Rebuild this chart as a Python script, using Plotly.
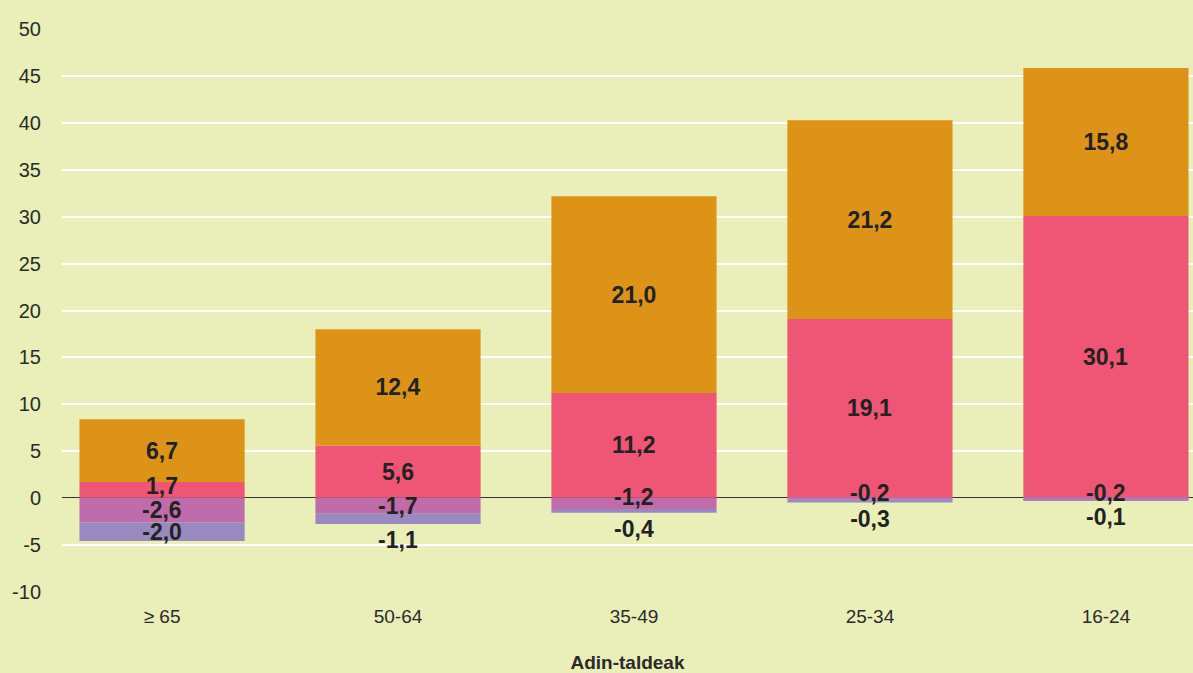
import plotly.graph_objects as go

groups = ['≥ 65', '50-64', '35-49', '25-34', '16-24']

pink_vals = [1.7, 5.6, 11.2, 19.1, 30.1]
orange_vals = [6.7, 12.4, 21.0, 21.2, 15.8]
purple_vals = [-2.6, -1.7, -1.2, -0.2, -0.2]
lavender_vals = [-2.0, -1.1, -0.4, -0.3, -0.1]

y_ticks = [-10, -5, 0, 5, 10, 15, 20, 25, 30, 35, 40, 45, 50]

bg = '#EAEFB9'
label_font = dict(family='Liberation Sans', size=23, color='#222222', weight='bold')


def fmt(v):
    return f'{v:.1f}'.replace('.', ',')


def add_series(fig, vals, color, positions, show_text=True):
    fig.add_trace(go.Bar(
        x=groups, y=vals, marker=dict(color=color, line=dict(width=0)),
        text=[fmt(v) for v in vals] if show_text else None, textposition=positions,
        insidetextanchor='middle', textangle=0,
        textfont=label_font, insidetextfont=label_font, outsidetextfont=label_font,
        cliponaxis=False, showlegend=False,
        hovertemplate='%{x}<br>%{y}<extra></extra>'))


fig = go.Figure()
add_series(fig, pink_vals, '#EF5574', 'none', show_text=False)
add_series(fig, orange_vals, '#DD9318', 'inside')
add_series(fig, purple_vals, '#C06BAA', 'none', show_text=False)
add_series(fig, lavender_vals, '#9A88C1', ['inside', 'outside', 'outside', 'outside', 'outside'])

# first segments on each side of zero: centred, nudged away from zero when thin
for g, v in zip(groups, pink_vals):
    fig.add_annotation(x=g, y=v / 2, text=fmt(v), showarrow=False,
                       font=label_font, yshift=4 if v < 3 else 0)
for g, v in zip(groups, purple_vals):
    fig.add_annotation(x=g, y=v / 2, text=fmt(v), showarrow=False,
                       font=label_font, yshift=6 if abs(v) < 1.5 else 0)

fig.update_layout(
    barmode='relative',
    bargap=0.3,
    width=1193, height=673,
    margin=dict(l=62, r=0, t=29, b=81),
    paper_bgcolor=bg, plot_bgcolor=bg,
    font=dict(family='Liberation Sans', size=19, color='#2a2a2a'),
    uniformtext=dict(minsize=23, mode='show'),
)

fig.update_xaxes(
    range=[-0.424, 4.369], showgrid=False, zeroline=False, showline=False,
    ticks='', ticklabelstandoff=11, tickfont=dict(size=19),
    title=dict(text='<b>Adin-taldeak</b>', font=dict(size=19, color='#2a2a2a'), standoff=29),
)
fig.update_yaxes(
    range=[-10.05, 50.05], tickvals=y_ticks, ticktext=[str(t) for t in y_ticks],
    showgrid=True, gridcolor='#FFFFFF', gridwidth=1.5,
    zeroline=True, zerolinecolor='#333333', zerolinewidth=1.2,
    showline=False, ticks='', ticklabelstandoff=20, tickfont=dict(size=20),
)

# page margin off so the chart fills the window
fig.write_html('out.html', config={'displayModeBar': False},
               post_script="document.body.style.margin='0';")
